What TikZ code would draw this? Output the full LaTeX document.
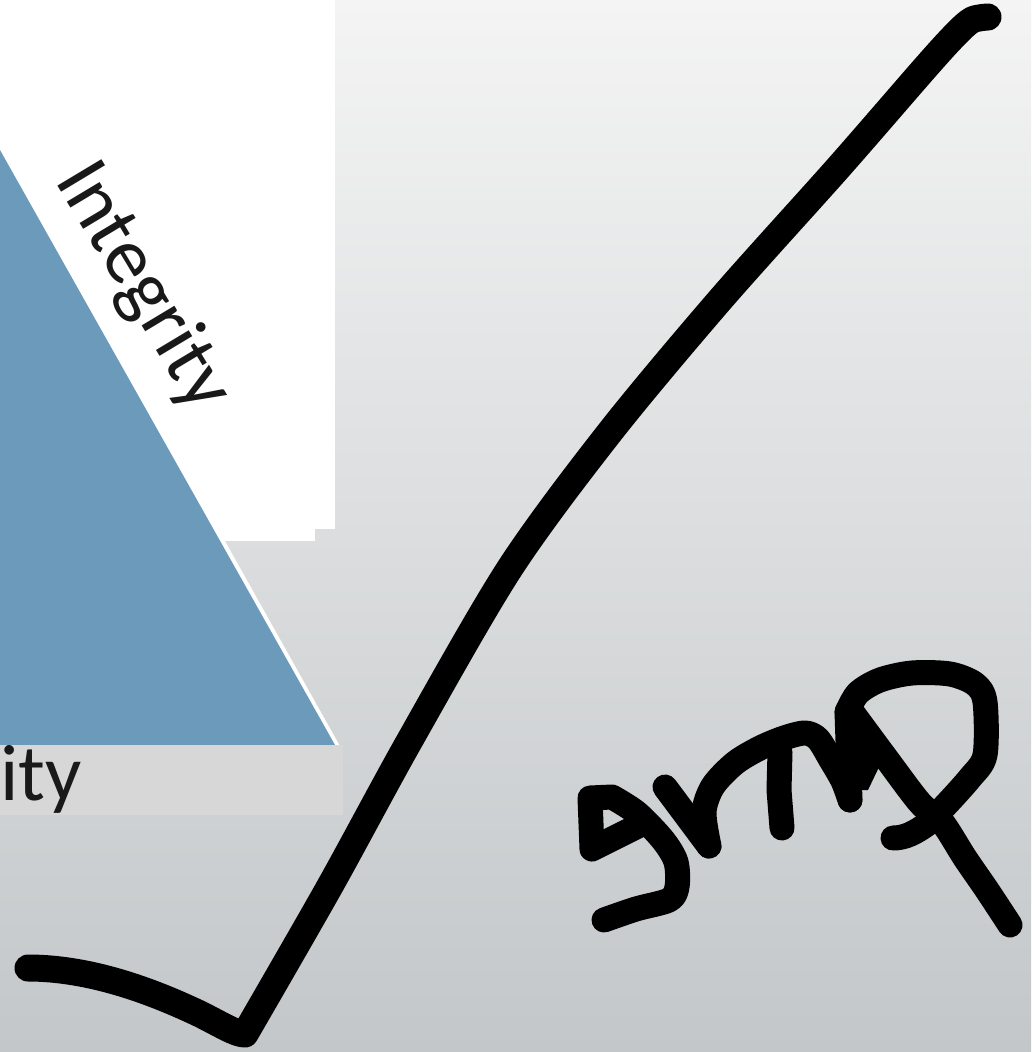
\documentclass[tikz,border=0pt]{standalone}
\usepackage{fontspec}
\setmainfont{Carlito}
\usetikzlibrary{calc}

\definecolor{bgtop}{RGB}{244,244,244}
\definecolor{bgbot}{RGB}{195,199,201}
\definecolor{triblue}{RGB}{108,154,186}
\definecolor{bandgray}{RGB}{215,215,215}

\begin{document}
\begin{tikzpicture}[
		x=1pt, y=-1pt,
		line join=round,
		line cap=round,
		ink/.style={black, line width=27pt},
		pen/.style={black, line width=25pt},
		halo/.style={white, line width=6pt},
		lab/.style={font=\fontsize{80}{92}\selectfont, inner sep=0pt, text=black!90}
	]
	
	% Parameters
	\def\W{1031}
	\def\H{1052}
	
	\useasboundingbox (0,0) rectangle (\W,\H);
	
	% Background
	\shade[top color=bgtop, bottom color=bgbot] (0,0) rectangle (\W,\H);
	\fill[white] (0,0) rectangle (335,529);
	\fill[white] (0,529) rectangle (315,541);
	
	% Blue triangle
	\draw[halo] (0,146) -- (337,747);
	\fill[triblue] (0,150) -- (335,745) -- (0,745) -- cycle;
	\fill[bandgray] (0,745) rectangle (343,815);
	
	% Labels
	\node[lab, rotate=-59, anchor=base west] (integ) at (54,180) {Integrity};
	\node[lab, anchor=base west] (ity) at (0,800) {ity};
	
	% Check mark
	\draw[ink] (28,968) .. controls (95,968) and (160,995) .. (200,1014)
	.. controls (222,1025) and (236,1034) .. (245,1034)
	-- plot[smooth, tension=0.5] coordinates {(245,1034) (330,886) (410,740) (510,568) (610,432) (720,300) (838,168) (925,68) (955,35) (972,20) (988,17)};
	
	% g
	\draw[pen] (646,822) -- (592,849) -- (590,798) -- (612,797)
	-- plot[smooth] coordinates {(612,797) (637,813) (663,840) (676,862) (677,887) (669,900) (636,909) (604,920)};
	
	% m
	\draw[pen] (665,787) -- (709,846);
	\draw[pen] plot[smooth] coordinates {(709,846) (704,812) (713,786) (735,763) (760,748) (784,738) (805,733) (818,739) (831,760) (843,781) (850,800)};
	\draw[pen] (782,828) -- (779,790) -- (780,752);
	
	% p
	\draw[pen] (850,800) -- (847,712);
	\fill (847,725) -- (880,765) -- (868,790) -- (850,790) -- cycle;
	\draw[pen] plot[smooth] coordinates {(847,712) (858,693) (880,680) (912,673) (950,674) (975,684) (985,702) (985,755) (970,778) (943,808) (930,820)};
	\draw[pen] plot[smooth] coordinates {(852,712) (886,758) (920,803) (942,822) (965,858) (987,890) (1010,925)};
	\draw[pen] (893,838) .. controls (905,838) and (915,833) .. (930,822);
	
\end{tikzpicture}
\end{document}
